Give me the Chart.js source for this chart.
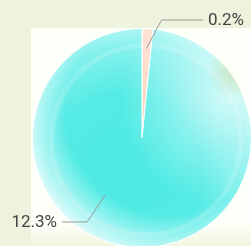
<!DOCTYPE html>
<html>
<head>
<meta charset="utf-8">
<script src="https://cdn.jsdelivr.net/npm/chart.js@4"></script>
<style>
  html, body { margin: 0; padding: 0; width: 251px; height: 246px; overflow: hidden; background: #edf3dc; }
  #wrap { position: absolute; left: 0; top: 0; width: 284px; height: 276px; }
</style>
</head>
<body>
<div id="wrap"><canvas id="pie" width="284" height="276"></canvas></div>
<script>
// ===== DATA =====
const categories = ['A', 'B'];
const values = [0.2, 12.3];
const valueLabels = ['0.2%', '12.3%'];

// ===== COLORS =====
const COLORS = {
  page: '#edf3dc',
  plot: '#fdfff9',
  peach: '#fcd3bd',
  cyan: '#52ebe5',
  leader: '#9a9a9a',
  text: '#444444',
};

// leader anchors (fraction of radius, angle offset from slice middle in degrees)
const leaderLayout = [
  { frac: 0.82, shift: 0, elbowY: 20, endX: 203 },
  { frac: 0.62, shift: 30, elbowY: 222, endX: 62 },
];

// slice fill: glassy radial gradient
function sliceFill(ctx) {
  const area = ctx.chart.chartArea;
  if (!area) return ctx.dataIndex === 0 ? COLORS.peach : COLORS.cyan;
  const c = ctx.chart.canvas.getContext('2d');
  const cx = (area.left + area.right) / 2;
  const cy = (area.top + area.bottom) / 2;
  const r = Math.min(area.width, area.height) / 2;
  if (ctx.dataIndex === 0) {
    const g = c.createLinearGradient(cx, area.top, cx, cy);
    g.addColorStop(0, '#fde3d4');
    g.addColorStop(1, '#fccbb0');
    return g;
  }
  const g = c.createRadialGradient(cx - r * 0.15, cy + r * 0.3, 0, cx - r * 0.15, cy + r * 0.3, r * 1.4);
  g.addColorStop(0, '#4deae3');
  g.addColorStop(0.5, '#54ebe5');
  g.addColorStop(0.8, '#86f1ed');
  g.addColorStop(1, '#c2f8f6');
  return g;
}

// background + glass highlight
const backdrop = {
  id: 'backdrop',
  beforeDraw(chart) {
    const { ctx } = chart;
    ctx.save();
    ctx.fillStyle = COLORS.page;
    ctx.fillRect(0, 0, chart.width, chart.height);
    const p = ctx.createLinearGradient(0, 225, 0, 250);
    p.addColorStop(0, COLORS.plot);
    p.addColorStop(1, '#eef5d8');
    ctx.fillStyle = p;
    ctx.fillRect(31, 28, chart.width - 31, chart.height - 28);
    ctx.restore();
  },
  afterDatasetsDraw(chart) {
    const { ctx, chartArea: a } = chart;
    const cx = (a.left + a.right) / 2;
    const cy = (a.top + a.bottom) / 2;
    const r = Math.min(a.width, a.height) / 2;
    ctx.save();
    ctx.beginPath();
    ctx.arc(cx, cy, r, 0, Math.PI * 2);
    ctx.clip();
    // upper-right sheen
    const g = ctx.createRadialGradient(cx + r * 0.75, cy - r * 0.35, 0, cx + r * 0.75, cy - r * 0.35, r * 0.95);
    g.addColorStop(0, 'rgba(255,255,255,0.6)');
    g.addColorStop(1, 'rgba(255,255,255,0)');
    ctx.fillStyle = g;
    ctx.fillRect(a.left, a.top, a.width, a.height);
    const y = ctx.createRadialGradient(cx + r * 0.85, cy - r * 0.6, 0, cx + r * 0.85, cy - r * 0.6, r * 0.25);
    y.addColorStop(0, 'rgba(195,210,140,0.5)');
    y.addColorStop(1, 'rgba(195,210,140,0)');
    ctx.fillStyle = y;
    ctx.fillRect(a.left, a.top, a.width, a.height);
    // bottom-left edge glow (crescent)
    const w = ctx.createRadialGradient(cx + r * 0.25, cy - r * 0.25, r * 0.95, cx + r * 0.25, cy - r * 0.25, r * 1.45);
    w.addColorStop(0, 'rgba(255,255,255,0)');
    w.addColorStop(1, 'rgba(255,255,255,1)');
    ctx.fillStyle = w;
    ctx.fillRect(a.left, a.top, a.width, a.height);
    // inner ring
    ctx.strokeStyle = 'rgba(255,255,255,0.15)';
    ctx.lineWidth = 5;
    ctx.beginPath();
    ctx.arc(cx + 4, cy + 2, r * 0.86, 0, Math.PI * 2);
    ctx.stroke();
    ctx.restore();
  },
};

// outside labels with leader lines
const leaders = {
  id: 'leaders',
  afterDraw(chart) {
    const { ctx } = chart;
    const meta = chart.getDatasetMeta(0);
    ctx.save();
    ctx.font = '17px Roboto';
    ctx.textBaseline = 'middle';
    meta.data.forEach((arc, i) => {
      const L = leaderLayout[i];
      const mid = (arc.startAngle + arc.endAngle) / 2 + L.shift * Math.PI / 180;
      const r = arc.outerRadius * L.frac;
      const x0 = arc.x + Math.cos(mid) * r;
      const y0 = arc.y + Math.sin(mid) * r;
      const right = L.endX > arc.x;
      const bx = right ? x0 + 15 : x0 - 18;
      ctx.strokeStyle = COLORS.leader;
      ctx.lineWidth = 1;
      ctx.beginPath();
      ctx.moveTo(x0, y0);
      ctx.lineTo(bx, L.elbowY);
      ctx.lineTo(L.endX, L.elbowY);
      ctx.stroke();
      ctx.fillStyle = COLORS.text;
      ctx.textAlign = right ? 'left' : 'right';
      ctx.fillText(valueLabels[i], right ? L.endX + 5 : L.endX - 5, L.elbowY + 1);
    });
    ctx.restore();
  },
};

new Chart(document.getElementById('pie'), {
  type: 'pie',
  data: {
    labels: categories,
    datasets: [{
      data: values,
      backgroundColor: sliceFill,
      borderColor: '#ffffff',
      borderWidth: 1,
    }],
  },
  options: {
    responsive: false,
    animation: false,
    layout: { padding: { left: 32, top: 28, right: 32, bottom: 28 } },
    plugins: {
      legend: { display: false },
      tooltip: { enabled: false },
    },
  },
  plugins: [backdrop, leaders],
});
</script>
</body>
</html>
